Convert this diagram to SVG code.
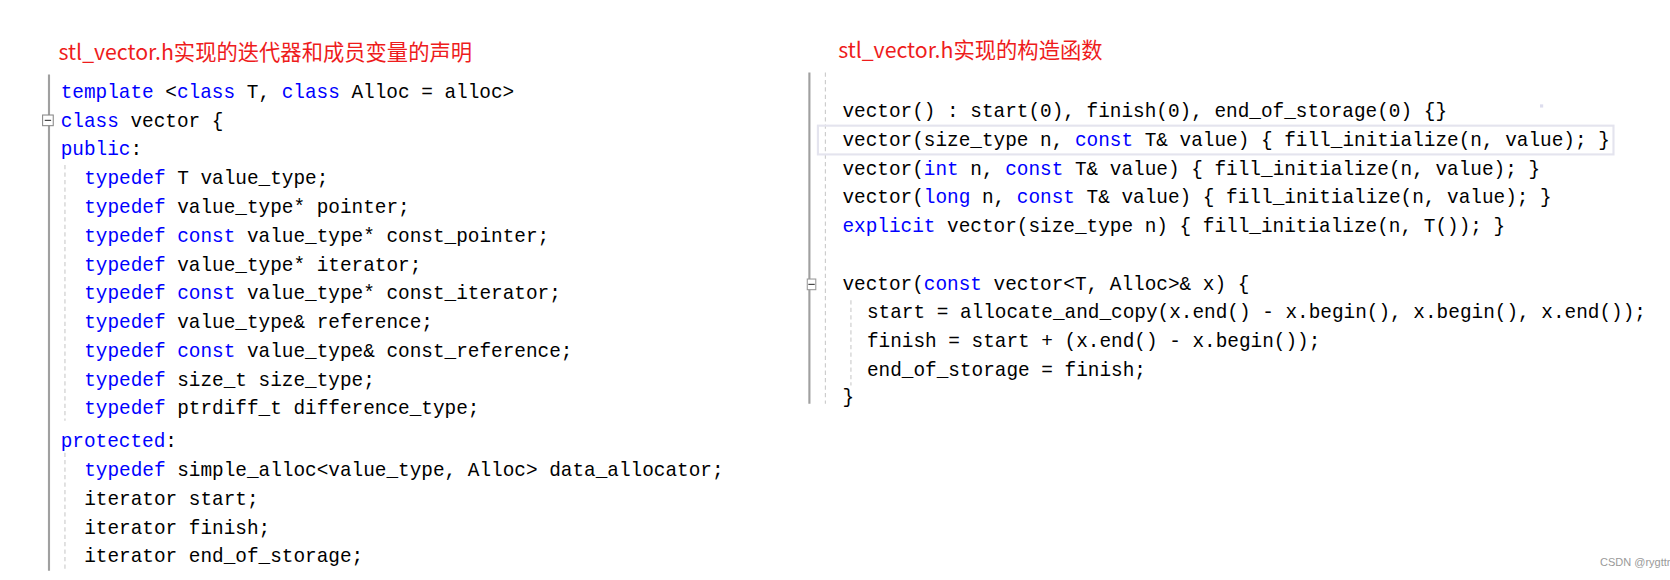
<svg xmlns="http://www.w3.org/2000/svg" width="1670" height="580" viewBox="0 0 1670 580">
<style>
.c{font-family:"Liberation Mono","Noto Sans CJK SC",monospace;font-size:18.2px;fill:#000;white-space:pre}
.k{fill:#0000ff}
.t{font-family:"Noto Sans CJK SC","Liberation Sans",sans-serif;font-size:20px;fill:#ee1c1c}
.g{stroke:#a0a0a0;stroke-width:2}
.d{stroke:#c8c8c8;stroke-width:1;stroke-dasharray:4 3}
</style>
<rect width="1670" height="580" fill="#fff"/>
<g transform="scale(1.065)">
<text class="t" x="55" y="56">stl_vector.h实现的迭代器和成员变量的声明</text>
<text class="t" x="787" y="54">stl_vector.h实现的构造函数</text>
<g id="left">
<line class="g" x1="46" y1="70" x2="46" y2="536"/>
<line class="d" x1="61" y1="155" x2="61" y2="395"/>
<line class="d" x1="61" y1="425" x2="61" y2="536"/>
<rect x="40" y="108" width="10" height="10" fill="#fff" stroke="#888"/>
<line x1="42" y1="113" x2="48" y2="113" stroke="#333"/>
<text class="c" x="57" y="92"><tspan class="k">template</tspan> &lt;<tspan class="k">class</tspan> T, <tspan class="k">class</tspan> Alloc = alloc&gt;</text>
<text class="c" x="57" y="119"><tspan class="k">class</tspan> vector {</text>
<text class="c" x="57" y="146"><tspan class="k">public</tspan>:</text>
<text class="c" x="79" y="173"><tspan class="k">typedef</tspan> T value_type;</text>
<text class="c" x="79" y="200"><tspan class="k">typedef</tspan> value_type* pointer;</text>
<text class="c" x="79" y="227"><tspan class="k">typedef</tspan> <tspan class="k">const</tspan> value_type* const_pointer;</text>
<text class="c" x="79" y="254"><tspan class="k">typedef</tspan> value_type* iterator;</text>
<text class="c" x="79" y="281"><tspan class="k">typedef</tspan> <tspan class="k">const</tspan> value_type* const_iterator;</text>
<text class="c" x="79" y="308"><tspan class="k">typedef</tspan> value_type&amp; reference;</text>
<text class="c" x="79" y="335"><tspan class="k">typedef</tspan> <tspan class="k">const</tspan> value_type&amp; const_reference;</text>
<text class="c" x="79" y="362"><tspan class="k">typedef</tspan> size_t size_type;</text>
<text class="c" x="79" y="389"><tspan class="k">typedef</tspan> ptrdiff_t difference_type;</text>
<text class="c" x="57" y="420"><tspan class="k">protected</tspan>:</text>
<text class="c" x="79" y="447"><tspan class="k">typedef</tspan> simple_alloc&lt;value_type, Alloc&gt; data_allocator;</text>
<text class="c" x="79" y="474">iterator start;</text>
<text class="c" x="79" y="501">iterator finish;</text>
<text class="c" x="79" y="528">iterator end_of_storage;</text>
</g>
<g id="right">
<line class="g" x1="760" y1="68" x2="760" y2="379"/>
<line class="d" x1="775" y1="68" x2="775" y2="379"/>
<line class="d" x1="799" y1="282" x2="799" y2="362"/>
<rect x="768" y="118" width="747" height="27" fill="none" stroke="#e4e4ee" stroke-width="2"/>
<rect x="1446" y="98" width="3" height="3" fill="#dde"/>
<rect x="758" y="262" width="8" height="10" fill="#fff" stroke="#999"/>
<line x1="759" y1="267" x2="765" y2="267" stroke="#333"/>
<text class="c" x="791" y="110">vector() : start(0), finish(0), end_of_storage(0) {}</text>
<text class="c" x="791" y="137">vector(size_type n, <tspan class="k">const</tspan> T&amp; value) { fill_initialize(n, value); }</text>
<text class="c" x="791" y="164">vector(<tspan class="k">int</tspan> n, <tspan class="k">const</tspan> T&amp; value) { fill_initialize(n, value); }</text>
<text class="c" x="791" y="191">vector(<tspan class="k">long</tspan> n, <tspan class="k">const</tspan> T&amp; value) { fill_initialize(n, value); }</text>
<text class="c" x="791" y="218"><tspan class="k">explicit</tspan> vector(size_type n) { fill_initialize(n, T()); }</text>
<text class="c" x="791" y="272">vector(<tspan class="k">const</tspan> vector&lt;T, Alloc&gt;&amp; x) {</text>
<text class="c" x="814" y="299">start = allocate_and_copy(x.end() - x.begin(), x.begin(), x.end());</text>
<text class="c" x="814" y="326">finish = start + (x.end() - x.begin());</text>
<text class="c" x="814" y="353">end_of_storage = finish;</text>
<text class="c" x="791" y="378">}</text>
</g>
</g>
<text x="1600" y="566" font-family="'Liberation Sans',sans-serif" font-size="11" fill="#999">CSDN @rygttm</text>
</svg>
